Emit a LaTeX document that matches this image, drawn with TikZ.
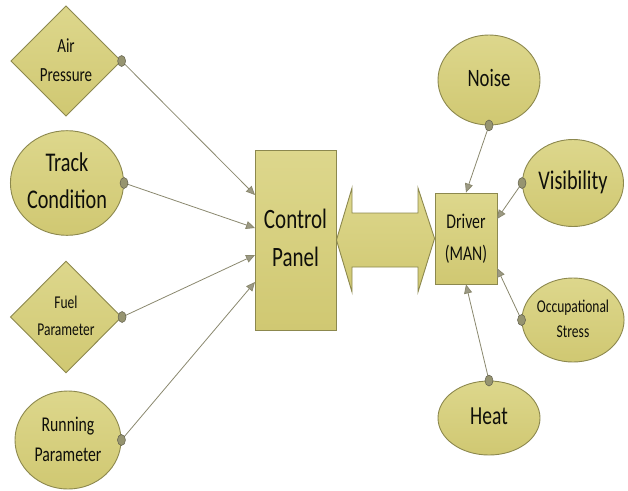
\documentclass[tikz,border=0pt]{standalone}
\usepackage{fontspec}
\setmainfont{Carlito}
\usetikzlibrary{shapes.geometric,arrows.meta}
\definecolor{boxtop}{RGB}{221,215,140}
\definecolor{boxbot}{RGB}{208,200,114}
\definecolor{boxline}{RGB}{140,136,78}
\definecolor{conn}{RGB}{138,136,110}
\definecolor{dotfill}{RGB}{150,148,112}
\definecolor{txt}{RGB}{15,15,10}
\newcommand{\lbl}[3]{\scalebox{0.75}[1]{\fontsize{#1}{#2}\selectfont\begin{tabular}{@{}c@{}}#3\end{tabular}}}
\tikzset{
  shp/.style={draw=boxline, line width=0.9pt, top color=boxtop, bottom color=boxbot, inner sep=0pt, text=txt},
  dia/.style={shp, diamond},
  circ/.style={shp, ellipse},
  rect/.style={shp, rectangle},
  dotc/.style={ellipse, draw=conn!70!black, line width=0.5pt, fill=dotfill, minimum width=8pt, minimum height=11pt, inner sep=0pt},
  arr/.style={draw=conn, line width=0.8pt, -{Triangle[length=9pt,width=8pt,fill=conn!85!white]}},
}
\begin{document}
\begin{tikzpicture}[x=1pt,y=-1pt]
\useasboundingbox (0,0) rectangle (628,490);
% left inputs
\node[dia, minimum width=100pt, minimum height=103pt] (air) at (66,61) {\lbl{20pt}{29pt}{Air\\Pressure}};
\node[circ, minimum width=105pt, minimum height=101pt] (track) at (67,183) {\lbl{27pt}{37pt}{Track\\Condition}};
\node[dia, minimum width=100pt, minimum height=112pt] (fuel) at (66,317) {\lbl{18pt}{27pt}{Fuel\\Parameter}};
\node[circ, minimum width=106pt, minimum height=98pt] (run) at (68,440) {\lbl{21pt}{30pt}{Running\\Parameter}};
% control panel
\node[rect, minimum width=81pt, minimum height=180pt] (cp) at (295.5,240) {\lbl{28pt}{38pt}{Control\\Panel}};
% driver
\node[rect, minimum width=62pt, minimum height=91pt] (drv) at (466,238.5) {\lbl{21pt}{32pt}{Driver\\(MAN)}};
% right factors
\node[circ, minimum width=102pt, minimum height=90pt] (noise) at (489,80) {\lbl{25pt}{30pt}{Noise}};
\node[circ, minimum width=101pt, minimum height=87pt] (vis) at (573,183) {\lbl{27pt}{30pt}{Visibility}};
\node[circ, minimum width=101pt, minimum height=84pt] (occ) at (573,320) {\lbl{18pt}{25pt}{Occupational\\Stress}};
\node[circ, minimum width=102pt, minimum height=74pt] (heat) at (489,418) {\lbl{26pt}{30pt}{Heat}};
% double arrow
\path[shp] (cp.east) -- (352,188) -- (352,213) -- (418,213) -- (418,188) -- (drv.west) -- (418,292) -- (418,267) -- (352,267) -- (352,292) -- cycle;
% connector ends
\coordinate (c1) at (255,195);
\coordinate (c2) at (255,228);
\coordinate (c3) at (255,255);
\coordinate (c4) at (255,282);
\coordinate (c5) at (497,219);
\coordinate (c6) at (497,268);
% connectors
\draw[arr] (air.east) -- (c1);
\draw[arr] (track.east) -- (c2);
\draw[arr] (fuel.east) -- (c3);
\draw[arr] (run.east) -- (c4);
\draw[arr] (noise.south) -- (drv.north);
\draw[arr] (vis.west) -- (c5);
\draw[arr] (occ.west) -- (c6);
\draw[arr] (heat.north) -- (drv.south);
% dots
\node[dotc] (d1) at (air.east) {};
\node[dotc] (d2) at (track.east) {};
\node[dotc] (d3) at (fuel.east) {};
\node[dotc] (d4) at (run.east) {};
\node[dotc] (d5) at (noise.south) {};
\node[dotc] (d6) at (vis.west) {};
\node[dotc] (d7) at (occ.west) {};
\node[dotc] (d8) at (heat.north) {};
\end{tikzpicture}
\end{document}
